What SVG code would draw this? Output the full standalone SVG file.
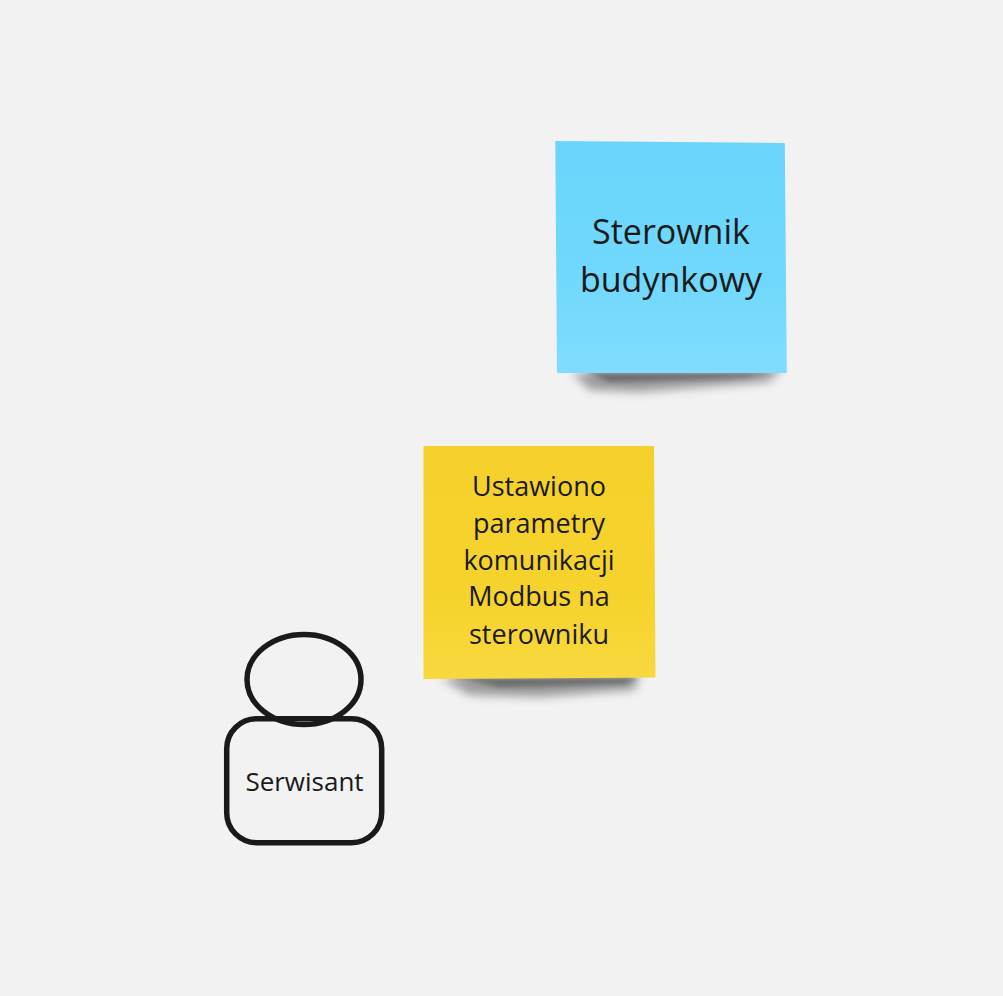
<svg xmlns="http://www.w3.org/2000/svg" width="1003" height="996" viewBox="0 0 1003 996">
<style>
text{font-family:"Open Sans","Noto Sans",sans-serif;fill:#1a1a1a;text-anchor:middle}
.big{font-size:34px}
.mid{font-size:27px}
.sm{font-size:26px}
.line{fill:none;stroke:#1a1a1a;stroke-width:5.5}
</style>
<defs>
<linearGradient id="b" x1="0" y1="0" x2="0" y2="1"><stop offset="0" stop-color="#6bd4fa"/><stop offset="0.55" stop-color="#6fd8fc"/><stop offset="1" stop-color="#80dcff"/></linearGradient>
<linearGradient id="y" x1="0" y1="0" x2="0" y2="1"><stop offset="0" stop-color="#f5d02c"/><stop offset="0.65" stop-color="#f6d32c"/><stop offset="1" stop-color="#f7d83f"/></linearGradient>
<filter id="s1" x="-20%" y="-200%" width="140%" height="500%"><feGaussianBlur stdDeviation="5"/></filter>
<filter id="s2" x="-20%" y="-200%" width="140%" height="500%"><feGaussianBlur stdDeviation="2.5"/></filter>
</defs>
<rect width="1003" height="996" fill="#f2f2f2"/>
<g id="connectors"/>
<g id="node-sterownik">
<path d="M572 373L780 373L768 382L640 392L590 390Z" fill="#555" opacity=".55" filter="url(#s1)"/>
<path d="M585 372L785 372L745 378L610 382Z" fill="#444" opacity=".6" filter="url(#s2)"/>
<polygon points="555.3,141 784.8,143 786.8,373 557,373" fill="url(#b)"/>
<text class="big" x="671" y="244">Sterownik</text>
<text class="big" x="671" y="292">budynkowy</text>
</g>
<g id="node-ustawiono">
<path d="M440 678L640 677L634 690L540 697L470 695Z" fill="#555" opacity=".55" filter="url(#s1)"/>
<path d="M450 677L640 677L625 684L500 687Z" fill="#444" opacity=".6" filter="url(#s2)"/>
<polygon points="423.5,446 654,446 655.5,677.5 423.5,679" fill="url(#y)"/>
<text class="mid" x="539" y="496">Ustawiono</text>
<text class="mid" x="539" y="533">parametry</text>
<text class="mid" x="539" y="570">komunikacji</text>
<text class="mid" x="539" y="606">Modbus na</text>
<text class="mid" x="539" y="644">sterowniku</text>
</g>
<g id="node-serwisant">
<rect class="line" x="226.7" y="718.7" width="155" height="124" rx="30"/>
<ellipse class="line" cx="304" cy="679.5" rx="57" ry="45"/>
<text class="sm" x="304.500" y="791">Serwisant</text>
</g>
</svg>
